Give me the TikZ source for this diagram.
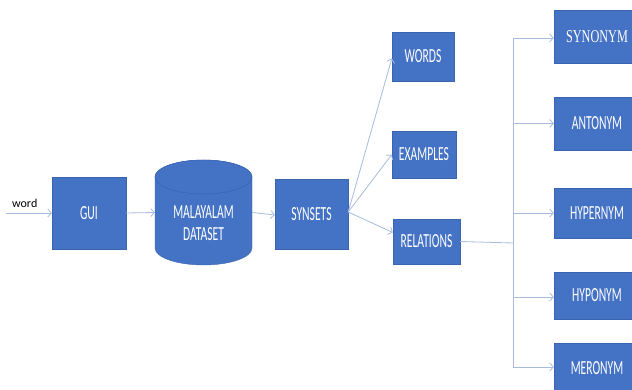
\documentclass[tikz,border=0pt]{standalone}
\usepackage{fontspec}
\setmainfont{Carlito}
\newfontfamily\seriffam{Liberation Serif}
\usetikzlibrary{arrows.meta}
\definecolor{boxblue}{HTML}{4472C4}
\definecolor{boxedge}{HTML}{3A64B0}
\definecolor{linec}{HTML}{A6BBDD}
\newcommand\sqz[1]{\scalebox{0.58}[1]{\fontsize{20}{24}\selectfont #1}}
\begin{document}
\begin{tikzpicture}[x=1pt,y=-1pt,
  box/.style={fill=boxblue, draw=boxedge, line width=0.4pt, text=white, inner sep=0pt, align=center},
  arr/.style={draw=linec, line width=0.8pt, -{Straight Barb[length=3.5pt,width=8pt]}},
  ln/.style={draw=linec, line width=0.8pt}]
\useasboundingbox (0,0) rectangle (632,390);
\clip (0,0) rectangle (632,390);
% nodes
\node[box, minimum width=74pt, minimum height=72pt] (gui) at (89,213) {\sqz{GUI}};
\node[inner sep=0pt, minimum width=97pt, minimum height=105pt] (db) at (203.5,212.5) {};
\fill[boxblue, draw=boxedge, line width=0.4pt]
  (155,177) -- (155,248) arc[start angle=180, end angle=360, x radius=48.5pt, y radius=17pt]
  -- (252,177) arc[start angle=0, end angle=180, x radius=48.5pt, y radius=17pt] -- cycle;
\draw[boxedge, line width=0.5pt, fill=boxblue] (203.5,177) ellipse[x radius=48.5pt, y radius=17pt];
\node[text=white, inner sep=0pt] (dbt1) at (203.5,212) {\sqz{MALAYALAM}};
\node[text=white, inner sep=0pt] (dbt2) at (203.5,234) {\sqz{DATASET}};
\node[box, minimum width=73pt, minimum height=70pt] (syn) at (311.5,214) {\sqz{SYNSETS}};
\node[box, minimum width=62pt, minimum height=49pt] (words) at (423,56.5) {\sqz{WORDS}};
\node[box, minimum width=64pt, minimum height=47pt] (ex) at (424,154.5) {\sqz{EXAMPLES}};
\node[box, minimum width=67pt, minimum height=45pt] (rel) at (426.5,241.5) {\sqz{RELATIONS}};
\node[box, minimum width=86pt, minimum height=53pt] (syno) at (597,36.5) {\scalebox{0.68}[1]{\seriffam\fontsize{18}{20}\selectfont SYNONYM}};
\node[box, minimum width=86pt, minimum height=53pt] (ant) at (597,123.5) {\sqz{ANTONYM}};
\node[box, minimum width=86pt, minimum height=50pt] (hyper) at (597,213) {\sqz{HYPERNYM}};
\node[box, minimum width=86pt, minimum height=47pt] (hypo) at (597,295.5) {\sqz{HYPONYM}};
\node[box, minimum width=86pt, minimum height=50pt] (mero) at (597,368) {\sqz{MERONYM}};
\node[text=black, inner sep=0pt, anchor=base west] (wlabel) at (12,208) {\fontsize{12}{14}\selectfont word};
% connectors
\coordinate (start) at (6,213);
\draw[arr] (start) -- (gui.west);
\draw[arr] (gui.east) -- (db.west);
\draw[arr] (db.east) -- ([yshift=-1pt]syn.west);
\draw[arr] ([yshift=2pt]syn.east) -- ([yshift=-2pt]words.west);
\draw[arr] ([yshift=2pt]syn.east) -- (ex.west);
\draw[arr] ([yshift=2pt]syn.east) -- ([yshift=9pt]rel.west);
\coordinate (j) at (513,243);
\draw[ln] (rel.east) -- (j);
\draw[ln] ([yshift=-1.5pt]j |- syno.west) -- ([yshift=1pt]j |- mero.west);
\draw[arr] ([yshift=-1.5pt]j |- syno.west) -- ([yshift=-1.5pt]syno.west);
\draw[arr] (j |- ant.west) -- (ant.west);
\draw[arr] (j |- hyper.west) -- (hyper.west);
\draw[arr] ([yshift=-1.5pt]j |- hypo.west) -- ([yshift=-1.5pt]hypo.west);
\draw[arr] ([yshift=1pt]j |- mero.west) -- ([yshift=1pt]mero.west);
\end{tikzpicture}
\end{document}
